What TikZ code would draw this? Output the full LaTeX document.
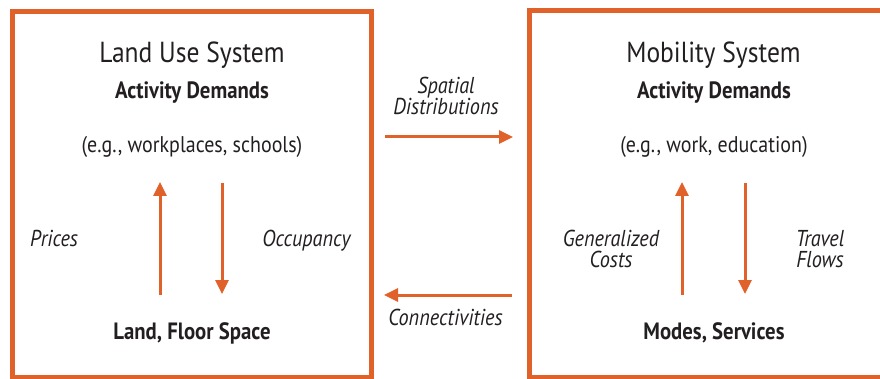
\documentclass[tikz,border=0pt]{standalone}
\usepackage{fontspec}
\setmainfont[FakeStretch=0.88]{PT Sans}
\usetikzlibrary{arrows.meta}
\definecolor{accent}{RGB}{224,98,42}
\definecolor{ink}{RGB}{35,31,32}
\tikzset{
  sysbox/.style={draw=accent, line width=5pt},
  flow/.style={draw=accent, line width=3pt, -{Triangle[width=13pt,length=14pt]}},
  title/.style={anchor=base, text=ink, font=\fontsize{29}{32}\selectfont, inner sep=0pt},
  head/.style={anchor=base, text=ink, font=\fontsize{23.6}{26}\selectfont\bfseries, inner sep=0pt},
  plain/.style={anchor=base, text=ink, font=\fontsize{22.7}{26}\selectfont, inner sep=0pt},
  lab/.style={anchor=base, text=ink, font=\fontsize{23}{20.5}\selectfont\itshape, inner sep=0pt, align=center},
}
\begin{document}
\begin{tikzpicture}[x=1pt,y=-1pt]
\useasboundingbox (0,0) rectangle (880,379);
\clip (0,0) rectangle (880,379);
% boxes
\draw[sysbox] (12,11.5) rectangle (371.5,377);
\draw[sysbox] (529.5,10.5) rectangle (900,377.5);
% left box texts
\node[title] (lt) at (192,63) {Land Use System};
\node[head] (lad) at (192,99) {Activity Demands};
\node[plain] (leg) at (192,153) {(e.g., workplaces, schools)};
\node[lab] (lp) at (54,247) {Prices};
\node[lab] (lo) at (306.5,247) {Occupancy};
\node[head] (lfs) at (192,339) {Land, Floor Space};
% right box texts
\node[title] (rt) at (713.5,63) {Mobility System};
\node[head] (rad) at (714,99) {Activity Demands};
\node[plain] (reg) at (714,153) {(e.g., work, education)};
\node[lab] (rgc) at (611,267) {Generalized\\Costs};
\node[lab] (rtf) at (820,267) {Travel\\Flows};
\node[head] (rms) at (714,339) {Modes, Services};
% middle labels
\node[lab] (msd) at (446,115) {Spatial\\Distributions};
\node[lab] (mc) at (445.5,325) {Connectivities};
% arrow end points
\coordinate (luA) at (160,295); \coordinate (luB) at (160,182);
\coordinate (ldA) at (222,183); \coordinate (ldB) at (222,294);
\coordinate (ruA) at (682,295); \coordinate (ruB) at (682,182);
\coordinate (rdA) at (745,183); \coordinate (rdB) at (745,294);
\coordinate (hrA) at (385,137); \coordinate (hrB) at (513,137);
\coordinate (hlA) at (512,295); \coordinate (hlB) at (384,295);
\draw[flow] (luA) -- (luB);
\draw[flow] (ldA) -- (ldB);
\draw[flow] (ruA) -- (ruB);
\draw[flow] (rdA) -- (rdB);
\draw[flow] (hrA) -- (hrB);
\draw[flow] (hlA) -- (hlB);
\end{tikzpicture}
\end{document}
